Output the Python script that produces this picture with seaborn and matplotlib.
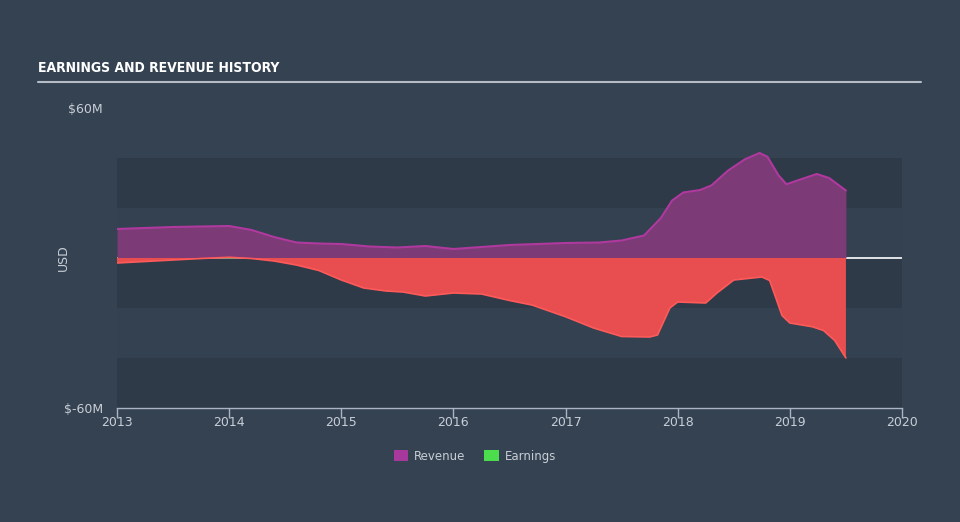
import matplotlib
matplotlib.use("Agg")
import matplotlib.pyplot as plt
from matplotlib.patches import Patch
from matplotlib import font_manager
import seaborn as sns
import pandas as pd

# ---- data (USD millions, fractional years) ----
rev_years = [2013.0, 2013.5, 2014.0, 2014.2, 2014.4, 2014.6, 2014.8, 2015.0, 2015.25, 2015.5,
             2015.75, 2016.0, 2016.25, 2016.5, 2016.75, 2017.0, 2017.3, 2017.5, 2017.7, 2017.85,
             2017.95, 2018.05, 2018.2, 2018.3, 2018.45, 2018.6, 2018.73, 2018.8, 2018.9, 2018.97,
             2019.1, 2019.24, 2019.35, 2019.5]
revenue = [11.6, 12.4, 12.8, 11.2, 8.4, 6.2, 5.8, 5.6, 4.6, 4.2,
           4.8, 3.6, 4.4, 5.2, 5.6, 6.0, 6.2, 7.0, 9.0, 16.0,
           23.0, 26.2, 27.2, 29.0, 35.0, 39.5, 42.0, 40.5, 33.0, 29.5,
           31.5, 33.6, 32.0, 27.0]

earn_years = [2013.0, 2013.25, 2013.5, 2013.75, 2014.0, 2014.2, 2014.4, 2014.6, 2014.8, 2015.0,
              2015.2, 2015.4, 2015.55, 2015.75, 2016.0, 2016.25, 2016.5, 2016.7, 2017.0, 2017.25,
              2017.5, 2017.75, 2017.82, 2017.93, 2018.0, 2018.25, 2018.35, 2018.5, 2018.75, 2018.82,
              2018.93, 2019.0, 2019.2, 2019.3, 2019.4, 2019.5]
earnings = [-2.0, -1.4, -0.8, -0.2, 0.3, -0.2, -1.2, -2.8, -5.0, -8.8,
            -12.0, -13.2, -13.6, -15.2, -14.0, -14.4, -17.0, -18.8, -23.5, -28.0,
            -31.4, -31.6, -30.8, -20.0, -17.6, -18.0, -14.0, -8.8, -7.6, -9.0,
            -23.0, -26.0, -27.5, -29.0, -33.0, -40.0]

x_ticks = [2013, 2014, 2015, 2016, 2017, 2018, 2019, 2020]
y_ticks = [-60, 60]
y_labels = ["\\$-60M", "\\$60M"]

rev_df = pd.DataFrame({"year": rev_years, "value": revenue})
earn_df = pd.DataFrame({"year": earn_years, "value": earnings})

# ---- style ----
BG = "#344252"
DARK = "#2e3a48"
TXT = "#c9ced6"
REV_FILL = "#7c3a76"
REV_LINE = "#b0399f"
EARN_FILL = "#e84e4f"
EARN_LINE = "#ff5a5a"
POS_FILL = "#4fb84f"

sns.set_theme(style="dark")
plt.rcParams["font.family"] = ["DejaVu Sans"]

# look for a condensed bold face for the title
title_prop = None
for f in font_manager.fontManager.ttflist:
    fn = f.fname.lower()
    if "condensed" in fn and "bold" in fn and "oblique" not in fn and "italic" not in fn:
        title_prop = font_manager.FontProperties(fname=f.fname, size=10)
        break
if title_prop is None:
    title_prop = font_manager.FontProperties(family="DejaVu Sans", weight="bold", size=9)

fig = plt.figure(figsize=(9.6, 5.22), dpi=100, facecolor=BG)
ax = fig.add_axes([117 / 960, (522 - 408) / 522, 785 / 960, 300 / 522])
ax.set_facecolor(BG)

ax.set_xlim(2013, 2020)
ax.set_ylim(-60, 60)

# background bands
for lo, hi in [(-60, -40), (-20, 0), (20, 40)]:
    ax.axhspan(lo, hi, color=DARK, lw=0, zorder=0)
for lo, hi in [(-40, -20), (0, 20)]:
    ax.axhspan(lo, hi, color="#334150", lw=0, zorder=0)

ax.axhline(0, color="white", lw=1.2, zorder=1)

# areas
ax.fill_between(rev_df["year"], 0, rev_df["value"], color=REV_FILL, lw=0, zorder=2)
ax.fill_between(earn_df["year"], 0, earn_df["value"], where=[v <= 0.05 for v in earnings],
                interpolate=True, color=EARN_FILL, lw=0, zorder=2)
ax.fill_between(earn_df["year"], 0, earn_df["value"], where=[v >= 0 for v in earnings],
                interpolate=True, color=POS_FILL, lw=0, zorder=2)
sns.lineplot(data=rev_df, x="year", y="value", ax=ax, color=REV_LINE, lw=1.5, zorder=3)
sns.lineplot(data=earn_df, x="year", y="value", ax=ax, color=EARN_LINE, lw=1.2, zorder=3)

# axes
for s in ["top", "right", "left"]:
    ax.spines[s].set_visible(False)
ax.spines["bottom"].set_visible(True)
ax.spines["bottom"].set_color("#aab4c2")
ax.spines["bottom"].set_linewidth(1)
ax.set_xticks(x_ticks)
ax.set_xticklabels([str(t) for t in x_ticks])
ax.tick_params(axis="x", bottom=True, length=7, width=1, color="#aab4c2",
               labelcolor=TXT, labelsize=9, pad=-1)
ax.set_yticks(y_ticks)
ax.set_yticklabels(y_labels)
ax.tick_params(axis="y", left=False, length=0, labelcolor=TXT, labelsize=9, pad=10)
ax.grid(False)
ax.set_xlabel("")
ax.set_ylabel("")
fig.text(63 / 960, 1 - 258 / 522, "USD", color=TXT, fontsize=9, rotation=90,
         ha="center", va="center")

# title
fig.text(38 / 960, 1 - 68 / 522, "EARNINGS AND REVENUE HISTORY", color="white",
         fontproperties=title_prop, va="center", ha="left")
fig.add_artist(plt.Line2D([38 / 960, 921 / 960], [1 - 82 / 522, 1 - 82 / 522],
                          color="#b5bcc6", lw=1.5))

# legend
handles = [Patch(facecolor="#a8399c", edgecolor="none", label="Revenue"),
           Patch(facecolor="#4cdd4c", edgecolor="none", label="Earnings")]
leg = fig.legend(handles=handles, loc="center", bbox_to_anchor=(475 / 960, 1 - 456 / 522),
                 ncol=2, frameon=False, fontsize=8.5, handlelength=1.2, handleheight=1.0,
                 columnspacing=1.6, handletextpad=0.5)
for t in leg.get_texts():
    t.set_color(TXT)

fig.savefig("out.png", dpi=100, facecolor=BG)
